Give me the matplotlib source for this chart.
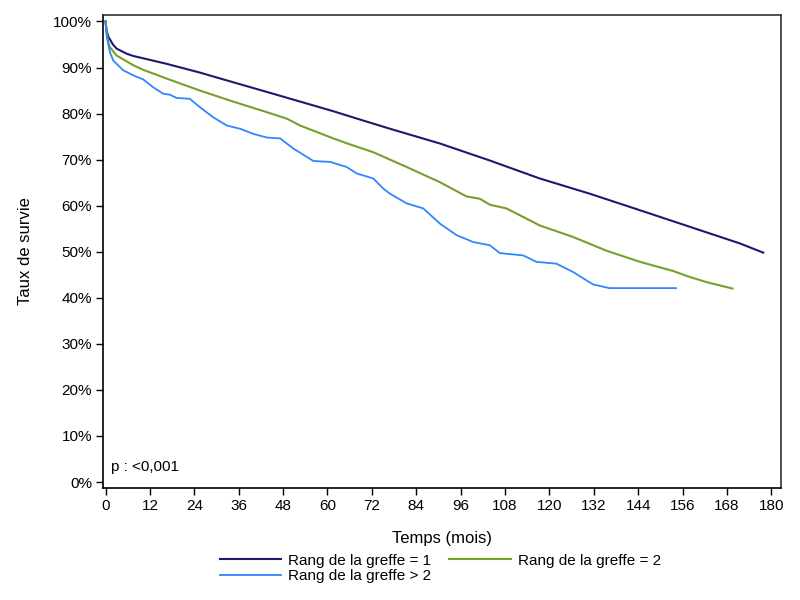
import matplotlib
matplotlib.use("Agg")
import matplotlib.pyplot as plt
from matplotlib.ticker import FixedLocator, FuncFormatter

plt.rcParams['font.family'] = ['Liberation Sans', 'DejaVu Sans']

# Series 1: Rang de la greffe = 1
t1 = [0, 0.3, 0.76, 2, 3.0, 5.7, 7.5, 10.2, 16.5, 25.5, 34.5, 43.6, 52.6, 61.6, 68.8,
      76.9, 90.4, 103.9, 117.4, 130.9, 144.5, 158, 171.5, 177.8]
s1 = [100, 98.0, 96.7, 95.0, 94.1, 93.0, 92.5, 92.0, 90.8, 88.9, 86.8, 84.7, 82.6, 80.5, 78.7,
      76.7, 73.5, 69.8, 65.9, 62.6, 59.0, 55.4, 51.8, 49.8]

# Series 2: Rang de la greffe = 2
t2 = [0, 0.3, 0.76, 1.2, 3.0, 7.5, 10.2, 16.5, 25.5, 34.5, 43.6, 49.0, 52.6, 61.6, 66.1, 72.4,
      81.4, 90.4, 97.6, 101.2, 103.9, 108.4, 117.4, 126.4, 135.5, 144.5, 153.5, 158, 162.5, 169.5]
s2 = [100, 97.5, 95.4, 94.4, 92.6, 90.5, 89.5, 87.6, 85.0, 82.6, 80.3, 78.9, 77.4, 74.6, 73.3, 71.6,
      68.4, 65.1, 62.0, 61.5, 60.2, 59.4, 55.7, 53.2, 50.2, 47.8, 45.8, 44.5, 43.4, 42.0]

# Series 3: Rang de la greffe > 2
t3 = [0, 0.3, 0.76, 1.2, 2.1, 4.8, 7.5, 10.2, 12.9, 15.6, 17.4, 19.2, 22.8, 25.5, 29.1, 32.8,
      36.4, 39.9, 43.6, 47.2, 50.8, 54.4, 56.2, 60.7, 65.2, 67.9, 72.4, 75.1, 76.9, 81.4, 85.9,
      90.4, 94.9, 99.4, 103.9, 106.6, 112.9, 116.5, 121.9, 126.4, 131.8, 136.2, 154.2]
s3 = [100, 97.0, 95.0, 93.3, 91.5, 89.4, 88.3, 87.4, 85.7, 84.3, 84.1, 83.4, 83.2, 81.4, 79.2, 77.4,
      76.7, 75.6, 74.8, 74.6, 72.4, 70.6, 69.7, 69.5, 68.4, 67.0, 65.9, 63.7, 62.6, 60.5, 59.4,
      56.1, 53.6, 52.1, 51.4, 49.7, 49.2, 47.8, 47.4, 45.6, 42.9, 42.1, 42.1]

labels = ["Rang de la greffe = 1", "Rang de la greffe = 2", "Rang de la greffe > 2"]
colors = ["#1a1a6e", "#76a02a", "#2f86ff"]

xticks = list(range(0, 181, 12))
yticks = list(range(0, 101, 10))

fig = plt.figure(figsize=(8, 6), dpi=100)
ax = fig.add_axes([103/800, 1-488/600, (781-103)/800, (488-15)/600])

l1, = ax.plot(t1, s1, color=colors[0], lw=1.5, label=labels[0])
l2, = ax.plot(t2, s2, color=colors[1], lw=1.5, label=labels[1])
l3, = ax.plot(t3, s3, color=colors[2], lw=1.3, label=labels[2])

ax.set_xlim(-0.68, 182.6)
ax.set_ylim(-1.3, 101.4)
ax.xaxis.set_major_locator(FixedLocator(xticks))
ax.yaxis.set_major_locator(FixedLocator(yticks))
ax.yaxis.set_major_formatter(FuncFormatter(lambda v, p: f"{int(v)}%"))
ax.tick_params(direction='out', length=5, width=1, labelsize=11, colors='black', pad=3)

for sp in ax.spines.values():
    sp.set_color('#333333')
    sp.set_linewidth(1.2)
ax.spines['left'].set_color('black')
ax.spines['bottom'].set_color('black')

ax.set_xlabel("Temps (mois)", fontsize=12, labelpad=13)
ax.set_ylabel("Taux de survie", fontsize=12, labelpad=14)

ax.text(0.012, 0.03, "p : <0,001", transform=ax.transAxes, fontsize=11, ha='left', va='bottom')

# column-major fill: col 1 = [=1, >2], col 2 = [=2]
fig.legend(handles=[l1, l3, l2], labels=[labels[0], labels[2], labels[1]], loc='upper left',
           bbox_to_anchor=(212/800, 1-546/600), ncol=2, frameon=False,
           fontsize=11, handlelength=4.0, handletextpad=0.5, columnspacing=1.17,
           labelspacing=0.12, borderpad=0)

fig.savefig("out.png", dpi=100)
